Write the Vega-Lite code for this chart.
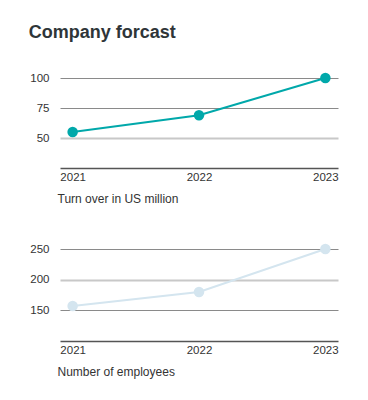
{
  "$schema": "https://vega.github.io/schema/vega-lite/v6.json",
  "padding": {"left": 28, "top": 24, "right": 10, "bottom": 5},
  "title": {"text": "Company forcast", "anchor": "start", "fontSize": 18, "fontWeight": "bold", "color": "#2e3538", "font": "Liberation Sans", "offset": 30, "dx": -1},
  "datasets": {
    "turnover": [
      {"year": "2021", "value": 55},
      {"year": "2022", "value": 69},
      {"year": "2023", "value": 100}
    ],
    "employees": [
      {"year": "2021", "value": 157},
      {"year": "2022", "value": 180},
      {"year": "2023", "value": 250}
    ]
  },
  "spacing": 39,
  "vconcat": [
    {
      "width": 278,
      "height": 90,
      "data": {"name": "turnover"},
      "encoding": {
        "x": {"field": "year", "type": "ordinal", "scale": {"type": "point", "padding": 0.1},
          "axis": {"title": "Turn over in US million"}},
        "y": {"field": "value", "type": "quantitative", "scale": {"domain": [25, 100], "nice": false, "zero": false},
          "axis": {"values": [50, 75, 100], "gridColor": {"condition": {"test": "datum.value === 50", "value": "#c8c8c8"}, "value": "#8a8a8a"},
            "gridWidth": {"condition": {"test": "datum.value === 50", "value": 2}, "value": 1}}}
      },
      "layer": [
        {"mark": {"type": "line", "color": "#00a8aa", "strokeWidth": 2}},
        {"mark": {"type": "circle", "color": "#00a8aa", "size": 110, "opacity": 1}}
      ]
    },
    {
      "width": 278,
      "height": 92,
      "data": {"name": "employees"},
      "encoding": {
        "x": {"field": "year", "type": "ordinal", "scale": {"type": "point", "padding": 0.1},
          "axis": {"title": "Number of employees"}},
        "y": {"field": "value", "type": "quantitative", "scale": {"domain": [100, 250], "nice": false, "zero": false},
          "axis": {"values": [150, 200, 250], "gridColor": {"condition": {"test": "datum.value === 200", "value": "#c8c8c8"}, "value": "#8a8a8a"},
            "gridWidth": {"condition": {"test": "datum.value === 200", "value": 2}, "value": 1}}}
      },
      "layer": [
        {"mark": {"type": "line", "color": "#d4e5ef", "strokeWidth": 2}},
        {"mark": {"type": "circle", "color": "#d4e5ef", "size": 110, "opacity": 1}}
      ]
    }
  ],
  "config": {
    "font": "Liberation Sans",
    "view": {"stroke": null},
    "axisX": {
      "domainColor": "#555555", "domainWidth": 1.5, "ticks": false, "grid": false,
      "labelAngle": 0, "labelPadding": 3, "labelFontSize": 11.5, "labelColor": "#333333",
      "titleFontSize": 12, "titleFontWeight": "normal", "titleColor": "#333333",
      "titleAnchor": "start", "titleAlign": "left", "titleX": -3, "titleY": 30, "titleBaseline": "middle"
    },
    "axisY": {
      "domain": false, "ticks": false, "grid": true, "title": null,
      "labelPadding": 11, "labelFontSize": 11.5, "labelColor": "#333333",
      "minExtent": 30, "maxExtent": 30
    }
  }
}
